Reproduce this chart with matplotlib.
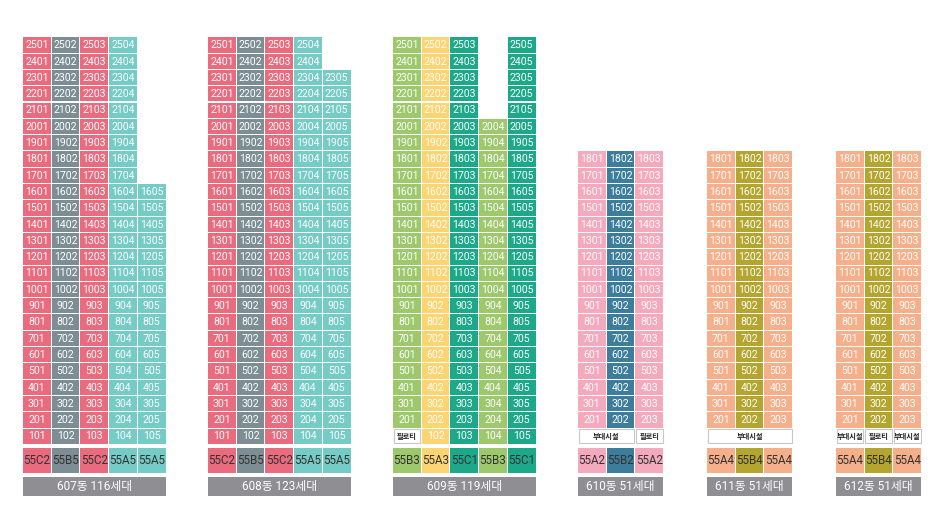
import matplotlib.pyplot as plt
from matplotlib.patches import Rectangle

plt.rcParams['font.family'] = ['Roboto', 'Noto Sans CJK KR', 'DejaVu Sans']

# chart data
building_labels = ['607동 116세대', '608동 123세대', '609동 119세대',
                   '610동 51세대', '611동 51세대', '612동 51세대']
top_floors = [
    [25, 25, 25, 25, 16],
    [25, 25, 25, 25, 23],
    [25, 25, 25, 20, 25],
    [18, 18, 18],
    [18, 18, 18],
    [18, 18, 18],
]
unit_types = [
    ['55C2', '55B5', '55C2', '55A5', '55A5'],
    ['55C2', '55B5', '55C2', '55A5', '55A5'],
    ['55B3', '55A3', '55C1', '55B3', '55C1'],
    ['55A2', '55B2', '55A2'],
    ['55A4', '55B4', '55A4'],
    ['55A4', '55B4', '55A4'],
]
# ground floor cells that are not units: (first column, column span, label)
ground_special = [
    [],
    [],
    [(0, 1, '필로티')],
    [(0, 2, '부대시설'), (2, 1, '필로티')],
    [(0, 3, '부대시설')],
    [(0, 1, '부대시설'), (1, 1, '필로티'), (2, 1, '부대시설')],
]

# styles / layout
type_colors = {
    '55C2': '#EA6A7E', '55B5': '#7C8E94', '55A5': '#75CBC5',
    '55B3': '#9DC86C', '55A3': '#FCD471', '55C1': '#1BA98A',
    '55A2': '#F4A9BD', '55B2': '#3B7D9B',
    '55A4': '#F6AF8B', '55B4': '#B4A52F',
}
building_x = [23, 208, 393, 578, 707, 836]
col_w = 28.7
row_h = 16.3
top_y = 37.3
max_floor = 25
gap = 1.0

fig = plt.figure(figsize=(9.44, 5.19), dpi=100)
ax = fig.add_axes([0, 0, 1, 1])
ax.set_xlim(0, 944)
ax.set_ylim(519, 0)
ax.axis('off')


def floor_top(f):
    return top_y + (max_floor - f) * row_h


for b, x0 in enumerate(building_x):
    ncols = len(top_floors[b])
    special_cols = {}
    for start, span, _ in ground_special[b]:
        for c in range(start, start + span):
            special_cols[c] = True

    for c in range(ncols):
        color = type_colors[unit_types[b][c]]
        x = x0 + c * col_w
        for f in range(1, top_floors[b][c] + 1):
            if f == 1 and c in special_cols:
                continue
            y = floor_top(f)
            ax.add_patch(Rectangle((x, y), col_w - gap, row_h - gap,
                                   facecolor=color, edgecolor='none'))
            ax.text(x + (col_w - gap) / 2, y + (row_h - gap) / 2 + 0.3,
                    str(f * 100 + c + 1), color='white', fontsize=7.6,
                    ha='center', va='center')

        # unit type row
        ty = 447.8
        ax.add_patch(Rectangle((x, ty), col_w - gap, 25, facecolor=color,
                               edgecolor='none'))
        ax.text(x + (col_w - gap) / 2, ty + 12.8, unit_types[b][c],
                color='#333333', fontsize=8.4, ha='center', va='center')

    # ground floor non-unit cells
    for start, span, label in ground_special[b]:
        x = x0 + start * col_w
        y = floor_top(1)
        w = span * col_w - gap
        ax.add_patch(Rectangle((x + 0.5, y + 0.5), w - 1, row_h - gap - 1,
                               facecolor='white', edgecolor='#C8C8C8',
                               linewidth=0.8))
        ax.text(x + w / 2, y + (row_h - gap) / 2, label, color='#222222',
                fontsize=5.2, fontweight='bold', ha='center', va='center',
                family=['Noto Sans CJK KR', 'DejaVu Sans'])

    # building name bar
    bw = ncols * col_w - gap
    ax.add_patch(Rectangle((x0, 477), bw, 18.7, facecolor='#8F8F93',
                           edgecolor='none'))
    ax.text(x0 + bw / 2, 486.5, building_labels[b], color='white',
            fontsize=8.5, ha='center', va='center',
            family=['Roboto', 'Noto Sans CJK KR'])

fig.savefig('out.png', dpi=100, facecolor='white')
